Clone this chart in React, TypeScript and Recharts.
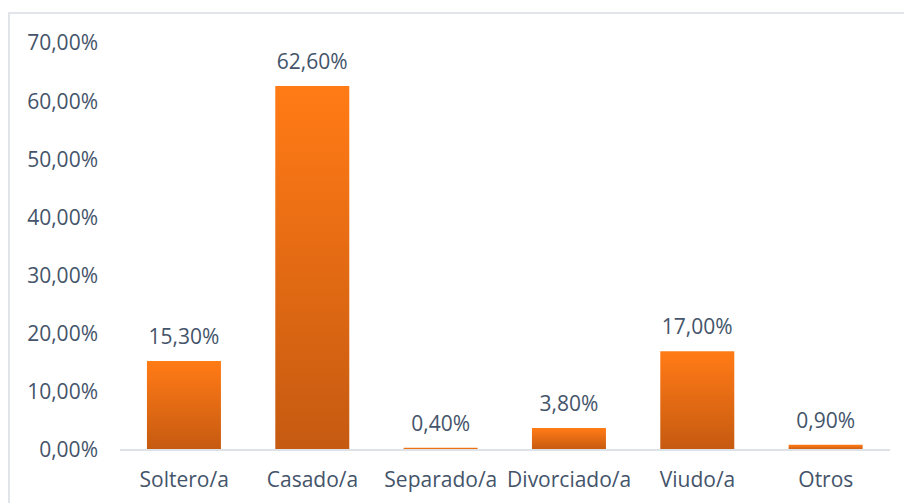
import { BarChart, Bar, XAxis, YAxis, LabelList } from 'recharts'

const categories = ['Soltero/a', 'Casado/a', 'Separado/a', 'Divorciado/a', 'Viudo/a', 'Otros']
const percentages = [15.3, 62.6, 0.4, 3.8, 17.0, 0.9]
const yTicks = [0, 10, 20, 30, 40, 50, 60, 70]

const data = categories.map((name, i) => ({ name, value: percentages[i] }))

// Spanish style: comma as decimal separator
const fmt = (v: number) => `${Number(v).toFixed(2).replace('.', ',')}%`

const textColor = '#44546A'
const font = '"Open Sans", sans-serif'
const fontSize = 21

export default function App() {
  return (
    <div style={{ position: 'absolute', left: 0, top: 0, width: 904, height: 503, background: '#fff' }}>
      {/* chart area frame, only top and left edges visible */}
      <div
        style={{
          position: 'absolute',
          left: 8,
          top: 12,
          width: 904,
          height: 503,
          borderTop: '2px solid #E1E5EA',
          borderLeft: '2px solid #E1E5EA',
        }}
      />
      <BarChart
        width={904}
        height={503}
        data={data}
        margin={{ top: 43, right: 14, bottom: 0, left: 0 }}
        barCategoryGap="21%"
        style={{ position: 'absolute', left: 0, top: 0, fontFamily: font }}
      >
        <defs>
          <linearGradient id="orangeGrad" x1="0" y1="0" x2="0" y2="1">
            <stop offset="0%" stopColor="#FF7B15" />
            <stop offset="12%" stopColor="#FA7715" />
            <stop offset="100%" stopColor="#C55A11" />
          </linearGradient>
        </defs>
        <XAxis
          dataKey="name"
          height={53}
          axisLine={{ stroke: '#DDE2E8', strokeWidth: 2 }}
          tickLine={false}
          tickSize={6}
          tickMargin={16}
          tick={{ fontSize, fill: textColor, fontFamily: font }}
          interval={0}
        />
        <YAxis
          width={120}
          domain={[0, 70]}
          ticks={yTicks}
          axisLine={false}
          tickLine={false}
          tickSize={6}
          tickMargin={16}
          tickFormatter={fmt}
          tick={{ fontSize, fill: textColor, fontFamily: font }}
        />
        <Bar dataKey="value" fill="url(#orangeGrad)" isAnimationActive={false}>
          <LabelList
            dataKey="value"
            position="top"
            offset={17}
            formatter={(v: any) => fmt(v)}
            style={{ fontSize, fill: textColor, fontFamily: font }}
          />
        </Bar>
      </BarChart>
    </div>
  )
}
